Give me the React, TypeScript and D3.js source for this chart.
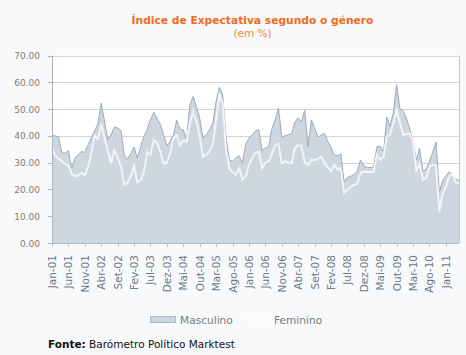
import React, { useEffect } from "react";
import * as d3 from "d3";

const monthNames = ["Jan", "Fev", "Mar", "Abr", "Mai", "Jun", "Jul", "Ago", "Set", "Out", "Nov", "Dez"];
const startYear = 2001;
const nMonths = 125; // Jan-01 .. Mai-11

const masculino = [
  40.2, 40.0, 39.5, 33.6, 33.6, 34.5, 28.0, 31.7, 33.0, 34.2,
  33.8, 36.7, 39.2, 42.0, 44.5, 52.2, 45.5, 38.6, 40.4, 43.3,
  42.9, 42.0, 33.0, 31.3, 33.3, 35.8, 31.7, 35.8, 39.8, 42.3,
  46.0, 48.8, 46.6, 44.2, 40.4, 36.3, 37.9, 40.4, 45.8, 42.5,
  42.3, 38.6, 51.6, 54.7, 51.0, 46.6, 39.2, 40.4, 42.3, 44.8,
  52.9, 58.2, 55.3, 40.0, 31.0, 30.5, 31.7, 32.6, 29.9, 36.7,
  39.2, 40.4, 41.8, 42.3, 34.5, 35.5, 36.0, 42.7, 46.0, 50.4,
  39.6, 40.0, 40.4, 40.8, 45.2, 46.7, 45.2, 49.5, 36.0, 46.0,
  43.0, 39.6, 40.2, 41.0, 37.9, 35.8, 32.8, 32.6, 33.3, 22.8,
  24.5, 24.9, 25.5, 26.7, 31.0, 28.8, 28.2, 28.2, 28.4, 36.0,
  36.1, 34.0, 47.0, 43.5, 48.5, 59.1, 50.2, 49.3, 46.5, 42.5,
  38.0, 31.0, 35.4, 26.8, 27.5, 30.5, 34.0, 37.8, 19.0, 23.3,
  25.1, 26.6, 25.5, 23.8, 23.3,
];

const feminino = [
  35.8, 32.5, 31.5, 30.5, 29.5, 29.0, 25.7, 24.9, 25.3, 26.2,
  25.3, 28.6, 33.5, 40.0, 38.8, 44.3, 39.0, 34.5, 29.8, 34.6,
  32.0, 28.5, 21.8, 22.4, 25.0, 28.8, 22.7, 23.4, 26.5, 33.8,
  33.0, 38.5, 37.3, 34.0, 29.7, 30.0, 33.4, 38.9, 40.2, 36.5,
  38.3, 37.7, 44.8, 49.1, 45.4, 39.8, 32.3, 33.0, 34.2, 36.7,
  46.0, 55.3, 52.2, 35.0, 28.0, 26.4, 25.5, 28.0, 23.6, 24.9,
  29.2, 31.7, 33.6, 34.2, 28.0, 30.0, 30.5, 33.4, 36.5, 37.0,
  29.7, 30.5, 30.0, 29.7, 35.5, 36.5, 36.3, 30.0, 29.2, 31.1,
  31.0, 31.3, 32.3, 29.9, 28.3, 26.7, 29.2, 27.4, 28.0, 18.7,
  19.9, 21.0, 21.6, 22.1, 26.0, 26.7, 26.5, 26.5, 26.4, 33.0,
  31.1, 32.3, 39.8, 40.4, 44.8, 49.5, 45.0, 40.4, 40.6, 40.9,
  37.5, 27.0, 29.5, 23.5, 24.2, 28.5, 29.1, 29.0, 11.7, 18.3,
  21.0, 24.8, 25.8, 22.6, 22.5,
];

const yTicks = [0, 10, 20, 30, 40, 50, 60, 70];
const labelStep = 5;

const categories = d3.range(nMonths).map((i) => {
  const y = startYear + Math.floor(i / 12);
  return `${monthNames[i % 12]}-${String(y % 100).padStart(2, "0")}`;
});

const W = 466;
const H = 355;
const left = 52;
const right = 459;
const top = 55.5;
const bottom = 243;

export default function App() {
  useEffect(() => {
    document.body.style.margin = "0";
  }, []);

  const x = d3.scaleLinear().domain([0, nMonths - 1]).range([left, right]);
  const y = d3.scaleLinear().domain([0, 70]).range([bottom, top]);

  const area = d3
    .area<number>()
    .x((_, i) => x(i))
    .y0(y(0))
    .y1((d) => y(d));
  const lineM = d3
    .line<number>()
    .x((_, i) => x(i))
    .y((d) => y(d));
  const lineF = d3
    .line<number>()
    .x((_, i) => x(i))
    .y((d) => y(d));

  const tickIdx = d3.range(0, nMonths, labelStep);
  const font = "'DejaVu Sans', Verdana, sans-serif";

  return (
    <svg
      width={W}
      height={H}
      style={{ position: "absolute", left: 0, top: 0, display: "block" }}
      fontFamily={font}
    >
      <rect x={0} y={0} width={W} height={H} fill="#f8f9fb" />
      <rect x={left} y={top} width={right - left} height={bottom - top} fill="#ffffff" />

      {yTicks.map((t) => (
        <line key={"g" + t} x1={left} x2={right} y1={Math.round(y(t)) + 0.5} y2={Math.round(y(t)) + 0.5} stroke="#d4d4d4" />
      ))}
      <line x1={right + 0.5} x2={right + 0.5} y1={top} y2={bottom} stroke="#c9c9c9" />

      <path d={area(masculino) || ""} fill="#ced6e0" />
      <path d={lineM(masculino) || ""} fill="none" stroke="#9eabbe" strokeWidth={1} />
      <path d={lineF(feminino) || ""} fill="none" stroke="#f3f4f6" strokeWidth={2} />

      <line x1={left + 0.5} x2={left + 0.5} y1={top} y2={bottom} stroke="#aab4c3" />
      <line x1={left} x2={right} y1={bottom + 0.5} y2={bottom + 0.5} stroke="#aab4c3" />

      {yTicks.map((t) => (
        <g key={"y" + t}>
          <line x1={left - 4} x2={left} y1={Math.round(y(t)) + 0.5} y2={Math.round(y(t)) + 0.5} stroke="#b5b5b5" />
          <text x={40} y={y(t) + 3.5} textAnchor="end" fontSize={9} fill="#857b72">
            {t.toFixed(2)}
          </text>
        </g>
      ))}

      {tickIdx.map((i) => (
        <g key={"x" + i}>
          <line x1={Math.round(x(i)) + 0.5} x2={Math.round(x(i)) + 0.5} y1={bottom} y2={bottom + 4} stroke="#c0c0c0" />
          <text
            transform={`translate(${x(i) + 4},255) rotate(-90)`}
            textAnchor="end"
            fontSize={10.5}
            fill="#6e7985"
          >
            {categories[i]}
          </text>
        </g>
      ))}

      <text x={252.5} y={24} textAnchor="middle" fontSize={10.7} fontWeight="bold" fill="#f26a1b">
        Índice de Expectativa segundo o género
      </text>
      <text x={252.5} y={36.5} textAnchor="middle" fontSize={10.5} fill="#f5873a">
        (em %)
      </text>

      <rect x={150.5} y={316.5} width={25} height={6} fill="#ced6e0" stroke="#aab6c6" />
      <text x={180} y={323.5} fontSize={10.6} fill="#7a7a7a">
        Masculino
      </text>
      <line x1={246} x2={270} y1={319.5} y2={319.5} stroke="#fbfcfd" strokeWidth={2} />
      <text x={274} y={323.5} fontSize={10.6} fill="#7a7a7a">
        Feminino
      </text>

      <text x={48} y={348} fontSize={10.5} fill="#111">
        <tspan fontWeight="bold">Fonte:</tspan> Barómetro Político Marktest
      </text>
    </svg>
  );
}
